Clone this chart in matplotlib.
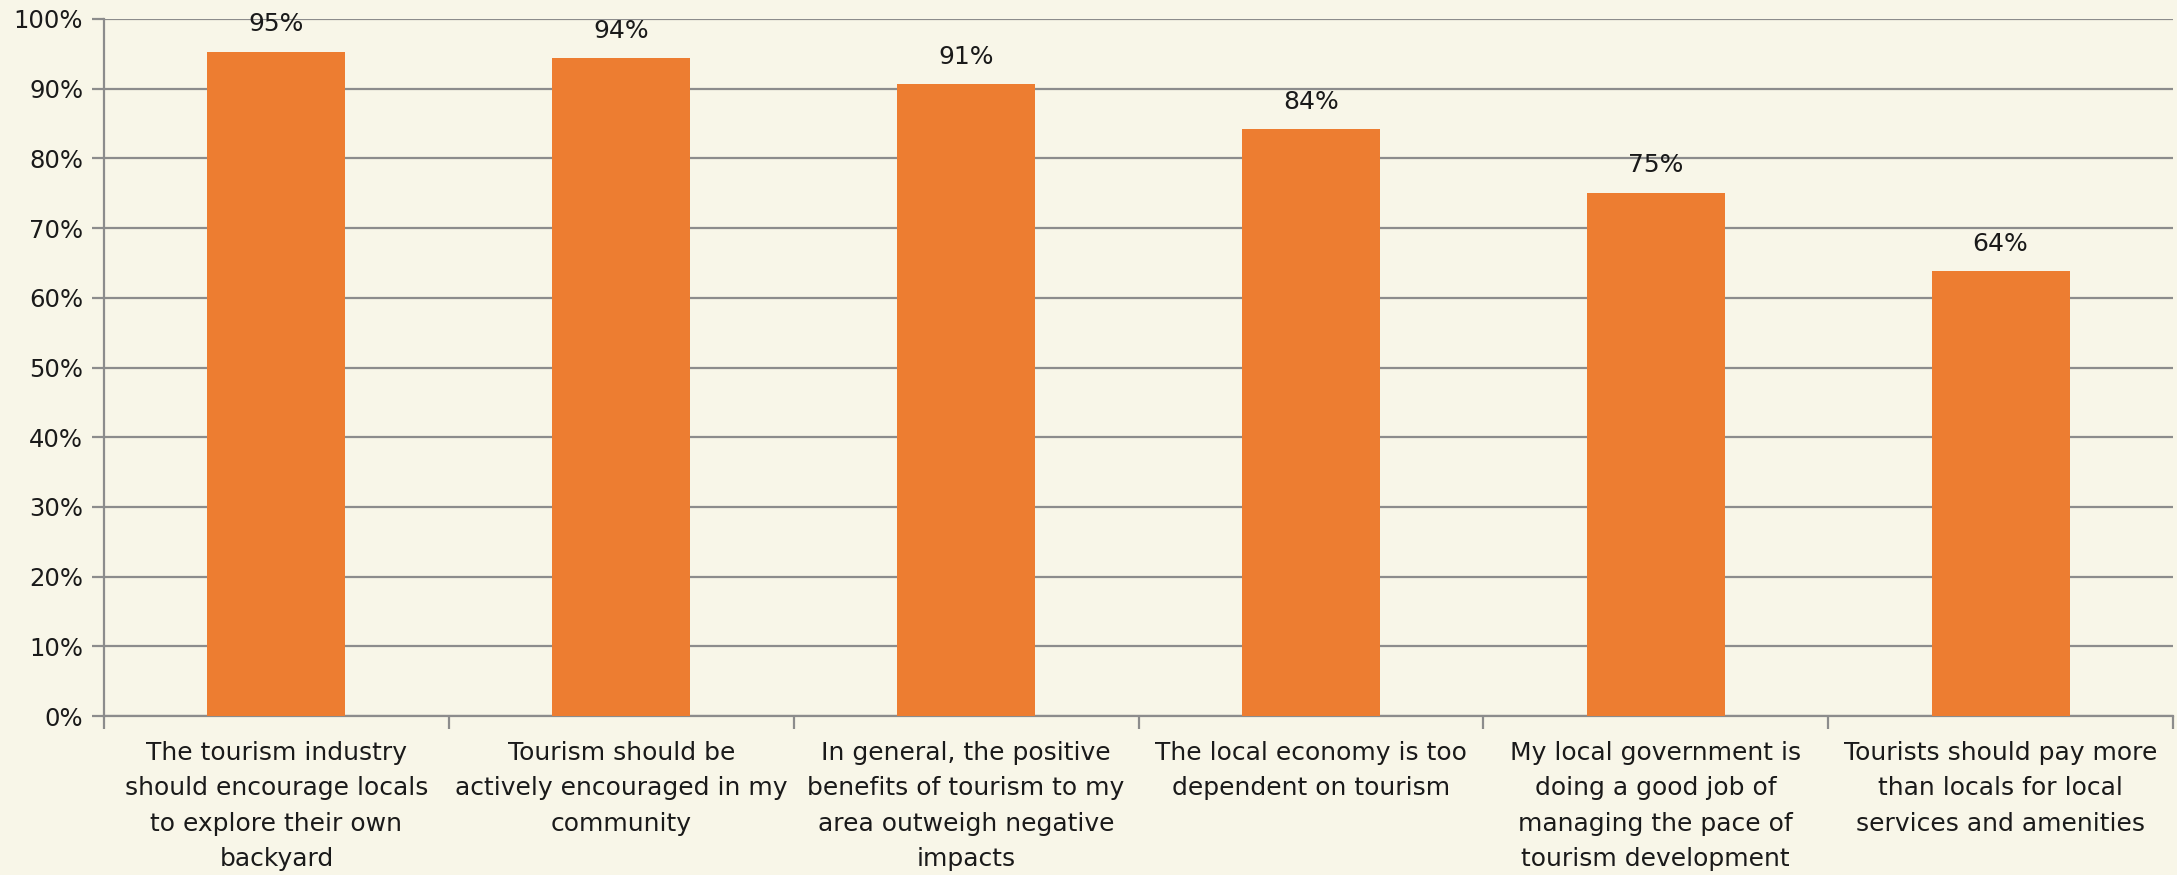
import matplotlib.pyplot as plt
import numpy as np
from matplotlib.ticker import MultipleLocator, FuncFormatter

# survey statements and share of respondents agreeing (%)
statements = [
    "The tourism industry\nshould encourage locals\nto explore their own\nbackyard",
    "Tourism should be\nactively encouraged in my\ncommunity",
    "In general, the positive\nbenefits of tourism to my\narea outweigh negative\nimpacts",
    "The local economy is too\ndependent on tourism",
    "My local government is\ndoing a good job of\nmanaging the pace of\ntourism development",
    "Tourists should pay more\nthan locals for local\nservices and amenities",
]
agree = [95.3, 94.4, 90.7, 84.2, 75.1, 63.8]

BG = '#F8F6E8'
BAR = '#ED7D31'
GRID = '#8C8C8C'
TXT = '#1a1a1a'

plt.rcParams['font.family'] = ['DejaVu Sans']

fig = plt.figure(figsize=(21.77, 8.75), dpi=100, facecolor=BG)
ax = fig.add_axes([104 / 2177, 1 - 716 / 875, (2173 - 104) / 2177, (716 - 19) / 875])
ax.set_facecolor(BG)

x = np.arange(len(agree))
ax.bar(x, agree, width=0.4, color=BAR, zorder=3)

for xi, v in zip(x, agree):
    ax.annotate(f'{v:.0f}%', (xi, v), xytext=(0, 11), textcoords='offset points',
                ha='center', va='bottom', fontsize=18, color=TXT)

ax.set_xlim(-0.5, len(agree) - 0.5)
ax.set_ylim(0, 100)
ax.yaxis.set_major_locator(MultipleLocator(10))
ax.yaxis.set_major_formatter(FuncFormatter(lambda v, _: f'{v:.0f}%'))
ax.grid(axis='y', color=GRID, linewidth=1.6, zorder=0)

ax.set_xticks(x)
ax.set_xticklabels(statements, fontsize=18, linespacing=1.6, color=TXT)
ax.set_xticks(np.arange(len(agree) + 1) - 0.5, minor=True)
ax.tick_params(axis='x', which='major', length=0, pad=18)
ax.tick_params(axis='x', which='minor', length=9, width=1.6, color=GRID)
ax.tick_params(axis='y', length=9, width=1.6, color=GRID, labelsize=17.5,
               labelcolor=TXT, pad=6)

for side in ['top', 'right']:
    ax.spines[side].set_visible(False)
for side in ['left', 'bottom']:
    ax.spines[side].set_color(GRID)
    ax.spines[side].set_linewidth(1.6)

fig.savefig('out.png', dpi=100, facecolor=BG)
